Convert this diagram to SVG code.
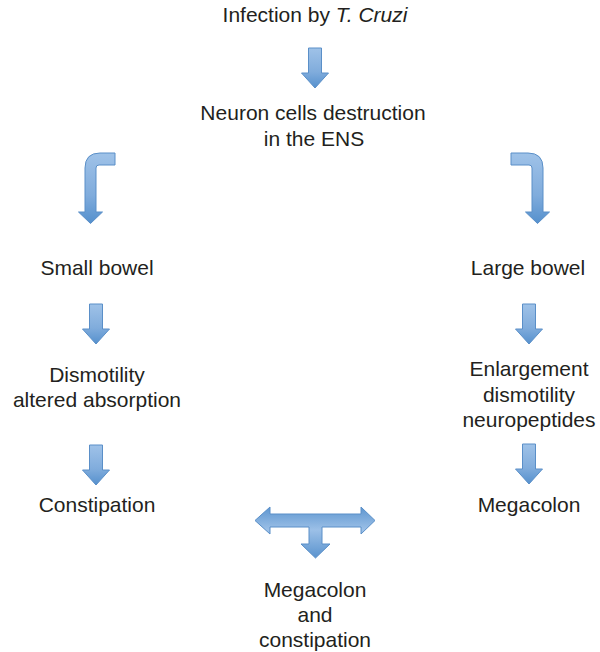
<svg xmlns="http://www.w3.org/2000/svg" xmlns:xlink="http://www.w3.org/1999/xlink" width="600" height="652" viewBox="0 0 600 652">
<style>
text{font-family:"Liberation Sans",Arial,sans-serif;font-size:21px;fill:#231f20;text-anchor:middle}
.arr{fill:url(#g);stroke:#5a8fc8;stroke-width:1;stroke-linejoin:miter}
.arrh{fill:url(#gh);stroke:#5a8fc8;stroke-width:1}
</style>
<defs>
<linearGradient id="g" x1="0" y1="0" x2="0" y2="1">
<stop offset="0" stop-color="#9fc2e8"/>
<stop offset="0.6" stop-color="#80acdc"/>
<stop offset="1" stop-color="#5590cd"/>
</linearGradient>
<linearGradient id="gh" x1="0" y1="0" x2="0" y2="1">
<stop offset="0" stop-color="#5e96d0"/>
<stop offset="0.45" stop-color="#9cc0e7"/>
<stop offset="1" stop-color="#5a93ce"/>
</linearGradient>
<path id="down" d="M-6.5,0 L6.5,0 L6.5,25 L13.5,25 L0,40 L-13.5,25 L-6.5,25 Z"/>
</defs>
<g id="connectors">
<use xlink:href="#down" class="arr" transform="translate(315,48)"/>
<path class="arr" d="M115,153 L100,153 Q85,153 85,168 L85,212 L78.5,212 L90.5,223.5 L102.5,212 L96,212 L96,168 Q96,165 99,165 L115,165 Z"/>
<path class="arr" d="M511,153 L528,153 Q543,153 543,168 L543,212 L549.5,212 L537.5,223.5 L525.5,212 L532,212 L532,168 Q532,165 529,165 L511,165 Z"/>
<use xlink:href="#down" class="arr" transform="translate(96,304)"/>
<use xlink:href="#down" class="arr" transform="translate(96,445)"/>
<use xlink:href="#down" class="arr" transform="translate(529,304)"/>
<use xlink:href="#down" class="arr" transform="translate(529,444)"/>
<path class="arrh" d="M255,520.5 L270,507 L270,514 L361,514 L361,507 L375,520.5 L361,534 L361,527 L322,527 L322,544 L330,544 L315.5,558 L301,544 L309,544 L309,527 L270,527 L270,534 Z"/>
</g>
<g id="infection"><text x="315" y="22">Infection by <tspan font-style="italic">T. Cruzi</tspan></text></g>
<g id="neuron"><text x="313" y="120">Neuron cells destruction</text><text x="314" y="146">in the ENS</text></g>
<g id="small-bowel"><text x="97" y="275">Small bowel</text></g>
<g id="large-bowel"><text x="528" y="275">Large bowel</text></g>
<g id="dismotility-left"><text x="97" y="382">Dismotility</text><text x="97" y="407">altered absorption</text></g>
<g id="enlargement"><text x="529" y="376">Enlargement</text><text x="529" y="402">dismotility</text><text x="529" y="427">neuropeptides</text></g>
<g id="constipation"><text x="97" y="512">Constipation</text></g>
<g id="megacolon"><text x="529" y="512">Megacolon</text></g>
<g id="megacolon-constipation"><text x="315" y="597">Megacolon</text><text x="315" y="622">and</text><text x="315" y="647">constipation</text></g>
</svg>
